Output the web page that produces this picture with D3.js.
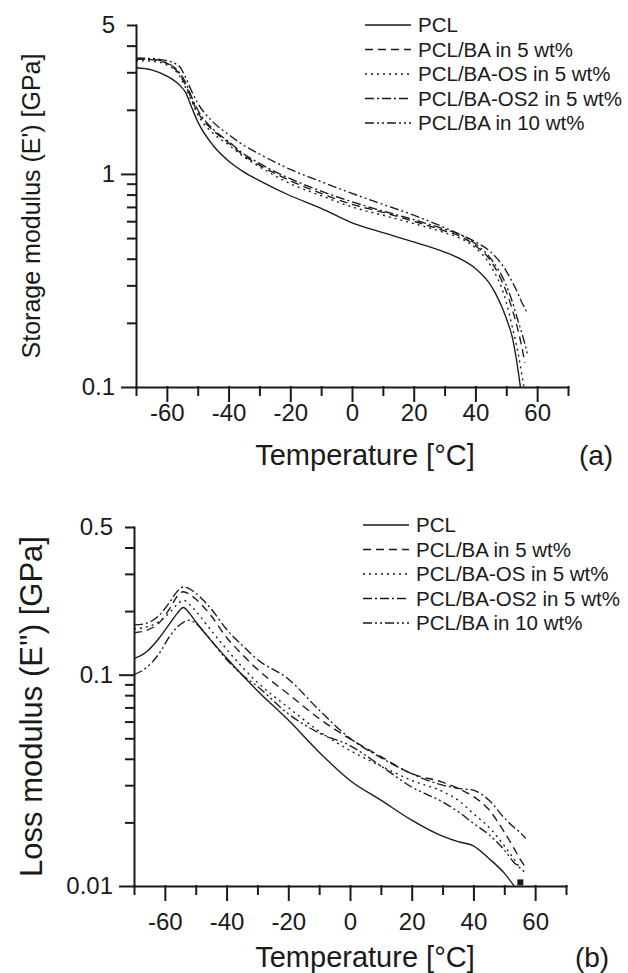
<!DOCTYPE html>
<html>
<head>
<meta charset="utf-8">
<script src="https://cdn.jsdelivr.net/npm/d3@7"></script>
<style>
  body { margin: 0; background: #fff; }
  text { font-family: 'Liberation Sans', Arial, sans-serif; fill: #1a1a1a; }
</style>
</head>
<body>
<svg id="chart"></svg>
<script>
// legend names, same order in both panels
const seriesNames = ['PCL', 'PCL/BA in 5 wt%', 'PCL/BA-OS in 5 wt%', 'PCL/BA-OS2 in 5 wt%', 'PCL/BA in 10 wt%']

// x axis ticks (shared)
const tempTicks = [-70, -60, -50, -40, -30, -20, -10, 0, 10, 20, 30, 40, 50, 60, 70]
const tempLabels = [-60, -40, -20, 0, 20, 40, 60]

// (a) storage modulus E' [GPa]
const tempA = [-70, -65, -60, -56, -54, -52, -50, -45, -40, -35, -30, -20, -10, 0, 10, 20, 30, 35, 40, 45, 50, 52, 54, 55, 56, 57]
const storagePCL  = [3.15, 3.08, 2.88, 2.62, 2.42, 2.06, 1.76, 1.36, 1.15, 1.02, 0.93, 0.79, 0.69, 0.59, 0.53, 0.48, 0.43, 0.40, 0.36, 0.30, 0.21, 0.17, 0.115, 0.09, null, null]
const storageBA5  = [3.45, 3.44, 3.30, 2.95, 2.62, 2.25, 1.95, 1.60, 1.40, 1.22, 1.10, 0.93, 0.81, 0.72, 0.66, 0.60, 0.54, 0.51, 0.46, 0.39, 0.28, 0.23, 0.18, 0.155, 0.13, null]
const storageOS   = [3.40, 3.38, 3.25, 2.90, 2.55, 2.20, 1.90, 1.55, 1.37, 1.20, 1.08, 0.90, 0.79, 0.70, 0.64, 0.585, 0.53, 0.50, 0.45, 0.37, 0.25, 0.19, 0.14, 0.115, 0.095, null]
const storageOS2  = [3.45, 3.45, 3.32, 3.00, 2.70, 2.30, 2.00, 1.62, 1.42, 1.24, 1.12, 0.95, 0.83, 0.74, 0.67, 0.61, 0.55, 0.52, 0.48, 0.43, 0.35, 0.31, 0.27, 0.25, 0.235, 0.22]
const storageBA10 = [3.50, 3.48, 3.40, 3.20, 2.85, 2.45, 2.15, 1.75, 1.53, 1.36, 1.24, 1.05, 0.92, 0.81, 0.72, 0.64, 0.56, 0.52, 0.47, 0.40, 0.30, 0.25, 0.20, 0.18, 0.16, 0.14]
const storageTicks = [0.1, 0.2, 0.3, 0.4, 0.5, 0.6, 0.7, 0.8, 0.9, 1, 2, 3, 4, 5]
const storageMajor = [0.1, 1]
const storageLabels = [0.1, 1, 5]

// (b) loss modulus E'' [GPa]
const tempB = [-70, -66, -62, -58, -56, -54, -52, -50, -45, -40, -35, -30, -20, -10, 0, 10, 20, 30, 35, 40, 45, 50, 53, 55, 57]
const lossPCL  = [0.119, 0.128, 0.148, 0.178, 0.195, 0.208, 0.195, 0.178, 0.145, 0.120, 0.100, 0.084, 0.061, 0.043, 0.0316, 0.0255, 0.0205, 0.0172, 0.0162, 0.0155, 0.0135, 0.0115, 0.0101, 0.0092, null]
const lossBA5  = [0.158, 0.162, 0.175, 0.210, 0.235, 0.247, 0.240, 0.228, 0.190, 0.150, 0.125, 0.106, 0.081, 0.062, 0.0497, 0.041, 0.034, 0.031, 0.029, 0.0265, 0.023, 0.018, 0.0152, 0.0135, 0.0122]
const lossOS   = [0.165, 0.168, 0.178, 0.200, 0.215, 0.225, 0.215, 0.200, 0.162, 0.132, 0.109, 0.092, 0.070, 0.054, 0.0438, 0.037, 0.0316, 0.028, 0.0255, 0.022, 0.019, 0.0155, 0.0135, 0.0122, null]
const lossOS2  = [0.172, 0.175, 0.190, 0.225, 0.248, 0.260, 0.255, 0.243, 0.205, 0.164, 0.138, 0.118, 0.0955, 0.068, 0.050, 0.0405, 0.034, 0.030, 0.029, 0.0284, 0.0255, 0.021, 0.019, 0.018, 0.0168]
const lossBA10 = [0.100, 0.108, 0.125, 0.155, 0.168, 0.177, 0.181, 0.175, 0.145, 0.118, 0.100, 0.088, 0.0653, 0.053, 0.0462, 0.037, 0.0294, 0.025, 0.0225, 0.0198, 0.0175, 0.0148, 0.013, 0.0122, 0.0115]
const lossPoint = [[55.2, 0.0104]]
const lossTicks = [0.01, 0.02, 0.03, 0.04, 0.05, 0.06, 0.07, 0.08, 0.09, 0.1, 0.2, 0.3, 0.4, 0.5]
const lossMajor = [0.01, 0.1]
const lossLabels = [0.01, 0.1, 0.5]

// line styles per series
const dashes = [null, '8,5', '2,4', '9,3,2,3', '9,3,2,3,2,3']

const svg = d3.select('#chart')
    .attr('width', 628)
    .attr('height', 973)

svg.append('rect').attr('width', 628).attr('height', 973).attr('fill', '#fff')

function drawPanel(p) {
    const x = d3.scaleLinear().domain([-70, 70]).range([p.x0, p.x1])
    const y = d3.scaleLog().domain(p.yDomain).range([p.yBottom, p.yTop])
    const g = svg.append('g')

    // clip curves to plot area
    g.append('clipPath').attr('id', p.id + '-clip')
        .append('rect')
            .attr('x', p.x0).attr('y', p.yTop - 10)
            .attr('width', p.x1 - p.x0).attr('height', p.yBottom - p.yTop + 10)

    const line = d3.line()
        .defined(d => d[1] != null)
        .x(d => x(d[0]))
        .y(d => y(d[1]))
        .curve(d3.curveMonotoneX)

    const series = p.values.map((vals, i) => ({
        name: seriesNames[i],
        dash: dashes[i],
        pts: p.temps.map((t, j) => [t, vals[j]])
    }))

    g.append('g').attr('clip-path', `url(#${p.id}-clip)`)
        .selectAll('path')
        .data(series)
        .join('path')
            .attr('d', d => line(d.pts))
            .attr('fill', 'none')
            .attr('stroke', '#1a1a1a')
            .attr('stroke-width', 1.35)
            .attr('stroke-dasharray', d => d.dash)

    if (p.points) {
        g.selectAll('rect.pt')
            .data(p.points)
            .join('rect')
                .attr('class', 'pt')
                .attr('x', d => x(d[0]) - 3)
                .attr('y', d => y(d[1]) - 3)
                .attr('width', 6).attr('height', 6)
                .attr('fill', '#1a1a1a')
    }

    // axes
    const xAxis = g.append('g')
        .attr('transform', `translate(0,${p.yBottom})`)
        .call(d3.axisBottom(x).tickValues(tempTicks).tickSize(14).tickSizeOuter(0).tickPadding(p.xPad)
            .tickFormat(d => tempLabels.includes(d) ? String(d) : ''))
    xAxis.selectAll('.tick line').attr('y2', d => tempLabels.includes(d) ? 14 : 8)

    const yAxis = g.append('g')
        .attr('transform', `translate(${p.x0},0)`)
        .call(d3.axisLeft(y).tickValues(p.yTicks).tickSize(14).tickSizeOuter(0).tickPadding(7)
            .tickFormat(d => p.yLabels.includes(d) ? String(d) : ''))
    yAxis.selectAll('.tick line').attr('x2', d => p.yMajor.includes(d) ? -14 : -8)

    g.selectAll('.domain, .tick line')
        .attr('stroke', '#1a1a1a')
        .attr('stroke-width', 2)
        .attr('stroke-linecap', 'square')
    g.selectAll('.tick text')
        .attr('font-size', 24)
        .attr('font-family', "'Liberation Sans', Arial, sans-serif")
        .attr('fill', '#1a1a1a')

    // titles
    g.append('text')
        .attr('transform', `translate(31,${(p.yTop + p.yBottom) / 2}) rotate(-90)`)
        .attr('text-anchor', 'middle')
        .attr('dy', '0.35em')
        .attr('font-size', p.yTitleSize)
        .text(p.yTitle)
    g.append('text')
        .attr('x', 365).attr('y', p.xTitleY)
        .attr('text-anchor', 'middle')
        .attr('dy', '0.35em')
        .attr('font-size', 29)
        .text('Temperature [°C]')
    g.append('text')
        .attr('x', p.tagX).attr('y', p.xTitleY)
        .attr('text-anchor', 'middle')
        .attr('dy', '0.35em')
        .attr('font-size', 28)
        .text(p.tag)

    // legend
    const leg = g.append('g')
        .selectAll('g')
        .data(series)
        .join('g')
            .attr('transform', (d, i) => `translate(${p.legendX},${p.legendY + i * 24.5})`)
    leg.append('line')
        .attr('x1', 0).attr('x2', 46)
        .attr('stroke', '#1a1a1a')
        .attr('stroke-width', 1.3)
        .attr('stroke-dasharray', d => d.dash)
    leg.append('text')
        .attr('x', 53)
        .attr('dy', '0.35em')
        .attr('font-size', 20.5)
        .text(d => d.name)
}

drawPanel({
    id: 'a', x0: 136, x1: 568, yTop: 25, yBottom: 387,
    yDomain: [0.1, 5], yTicks: storageTicks, yMajor: storageMajor, yLabels: storageLabels,
    temps: tempA,
    values: [storagePCL, storageBA5, storageOS, storageOS2, storageBA10],
    yTitle: "Storage modulus (E') [GPa]", yTitleSize: 25, tag: '(a)', tagX: 596,
    xPad: 3, xTitleY: 455,
    legendX: 365, legendY: 25
})

drawPanel({
    id: 'b', x0: 134, x1: 566, yTop: 527, yBottom: 886,
    yDomain: [0.01, 0.5], yTicks: lossTicks, yMajor: lossMajor, yLabels: lossLabels,
    temps: tempB,
    values: [lossPCL, lossBA5, lossOS, lossOS2, lossBA10],
    points: lossPoint,
    yTitle: "Loss modulus (E'') [GPa]", yTitleSize: 31, tag: '(b)', tagX: 592,
    xPad: 13, xTitleY: 957,
    legendX: 363, legendY: 525
})
</script>
</body>
</html>
